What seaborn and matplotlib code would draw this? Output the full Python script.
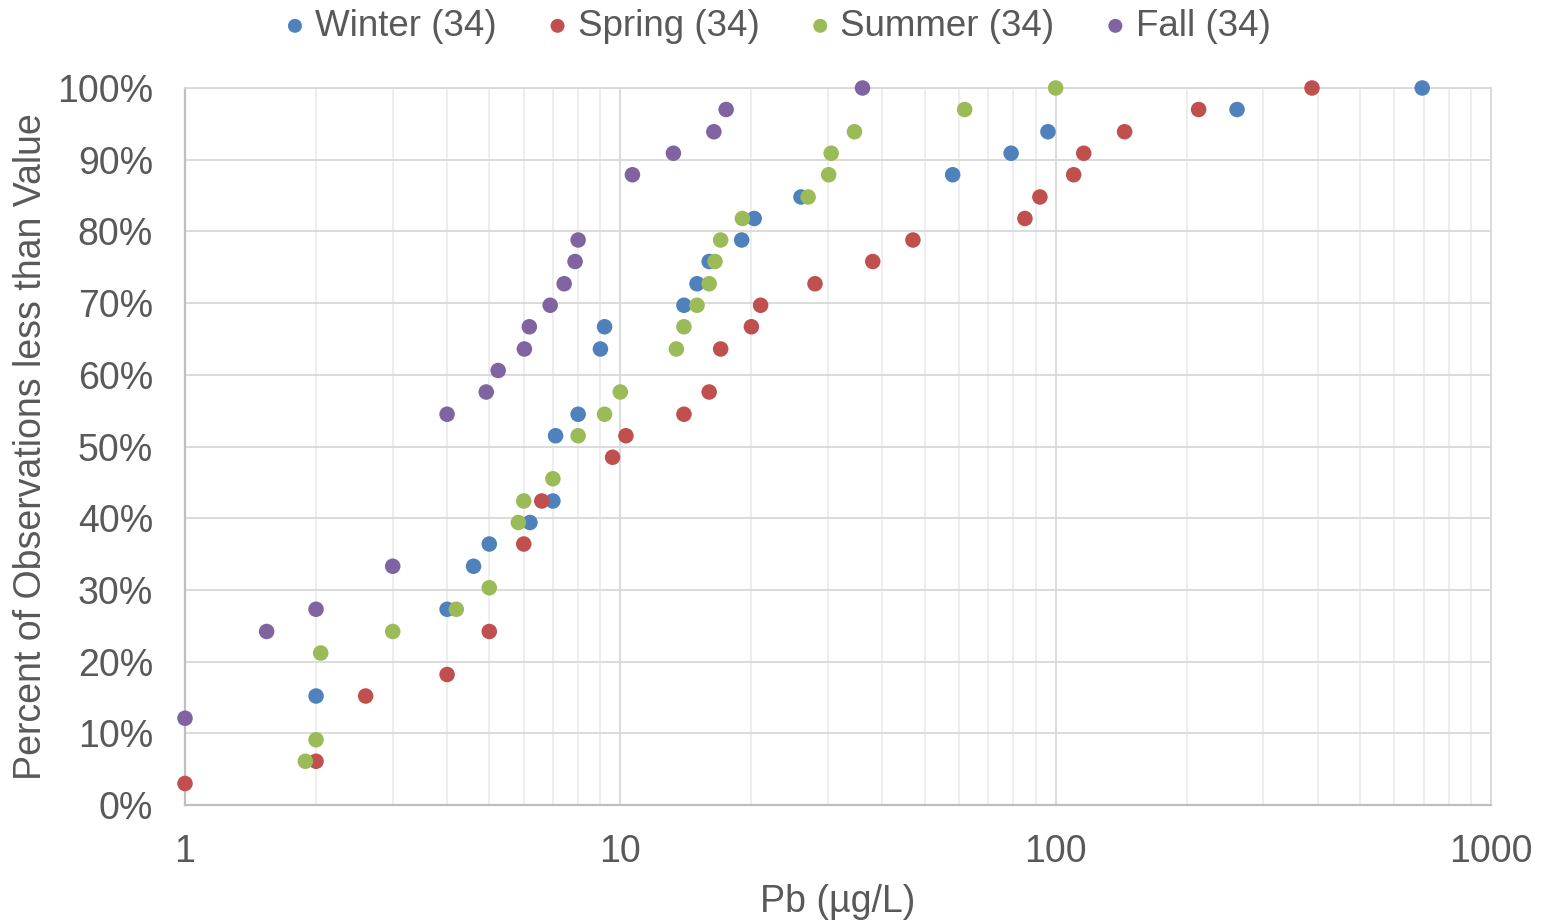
import matplotlib
matplotlib.use("Agg")
import matplotlib.pyplot as plt
from matplotlib.ticker import FixedLocator, LogLocator, NullFormatter, PercentFormatter, FixedFormatter
import seaborn as sns
import pandas as pd

# ---- data (Pb, ug/L  vs  percent of observations less than value)
winter_x = [2, 4, 4.6, 5, 6.2, 7.0, 7.1, 8, 9, 9.2, 14, 15, 16, 19, 20.3, 26, 58, 79, 96, 261, 695]
winter_y = [15.2, 27.3, 33.3, 36.4, 39.4, 42.4, 51.5, 54.5, 63.6, 66.7, 69.7, 72.7, 75.8, 78.8,
            81.8, 84.8, 87.9, 90.9, 93.9, 97.0, 100.0]

spring_x = [1, 2, 2.6, 4, 5, 6, 6.6, 9.6, 10.3, 14, 16, 17, 20, 21, 28, 38, 47, 85, 92, 110, 116,
            144, 213, 388]
spring_y = [3.0, 6.1, 15.2, 18.2, 24.2, 36.4, 42.4, 48.5, 51.5, 54.5, 57.6, 63.6, 66.7, 69.7,
            72.7, 75.8, 78.8, 81.8, 84.8, 87.9, 90.9, 93.9, 97.0, 100.0]

summer_x = [1.89, 2, 2.05, 3, 4.2, 5, 5.83, 6, 7, 8, 9.2, 10, 13.45, 14, 15, 16, 16.5, 17, 19.07,
            27, 30.1, 30.5, 34.5, 61.8, 100]
summer_y = [6.1, 9.1, 21.2, 24.2, 27.3, 30.3, 39.4, 42.4, 45.5, 51.5, 54.5, 57.6, 63.6, 66.7,
            69.7, 72.7, 75.8, 78.8, 81.8, 84.8, 87.9, 90.9, 93.9, 97.0, 100.0]

fall_x = [1, 1.54, 2, 3, 4, 4.92, 5.24, 6.02, 6.18, 6.9, 7.43, 7.87, 8, 10.66, 13.24, 16.4, 17.5, 36]
fall_y = [12.1, 24.2, 27.3, 33.3, 54.5, 57.6, 60.6, 63.6, 66.7, 69.7, 72.7, 75.8, 78.8, 87.9,
          90.9, 93.9, 97.0, 100.0]

series_names = ["Winter (34)", "Spring (34)", "Summer (34)", "Fall (34)"]
series_colors = ["#4F81BD", "#C0504D", "#9BBB59", "#8064A2"]

x_ticks = [1, 10, 100, 1000]
x_tick_labels = ["1", "10", "100", "1000"]
y_ticks = [0, 10, 20, 30, 40, 50, 60, 70, 80, 90, 100]

frames = []
for name, xs, ys in zip(series_names,
                        [winter_x, spring_x, summer_x, fall_x],
                        [winter_y, spring_y, summer_y, fall_y]):
    frames.append(pd.DataFrame({"Pb": xs, "pct": ys, "season": name}))
df = pd.concat(frames, ignore_index=True)

sns.set_style("white")
plt.rcParams["font.family"] = ["Liberation Sans", "DejaVu Sans"]
text_color = "#595959"
fs = 27

fig = plt.figure(figsize=(15.47, 9.23), dpi=100)
ax = fig.add_axes([185 / 1547, 1 - 805 / 923, (1491 - 185) / 1547, (805 - 88) / 923])

for name, color in zip(series_names, series_colors):
    sub = df[df["season"] == name]
    sns.scatterplot(data=sub, x="Pb", y="pct", ax=ax, color=color, s=125,
                    edgecolor="none", linewidth=0, label=name, clip_on=False, zorder=5)

ax.set_xscale("log")
ax.set_xlim(1, 1000)
ax.set_ylim(0, 100)
ax.xaxis.set_major_locator(FixedLocator(x_ticks))
ax.xaxis.set_major_formatter(FixedFormatter(x_tick_labels))
ax.xaxis.set_minor_locator(LogLocator(base=10, subs=range(2, 10)))
ax.xaxis.set_minor_formatter(NullFormatter())
ax.yaxis.set_major_locator(FixedLocator(y_ticks))
ax.yaxis.set_major_formatter(PercentFormatter(decimals=0))

ax.grid(True, which="major", axis="both", color="#d9d9d9", linewidth=1.3, zorder=0)
ax.grid(True, which="minor", axis="x", color="#ededed", linewidth=1.3, zorder=0)
ax.set_axisbelow(True)

for side in ["left", "bottom"]:
    ax.spines[side].set_color("#bfbfbf")
    ax.spines[side].set_linewidth(1.6)
for side in ["top", "right"]:
    ax.spines[side].set_color("#d9d9d9")
    ax.spines[side].set_linewidth(1.3)

ax.tick_params(axis="both", which="both", length=0, labelsize=fs, labelcolor=text_color)
ax.tick_params(axis="y", pad=23)
ax.tick_params(axis="x", pad=21)

ax.set_xlabel("Pb (µg/L)", fontsize=fs, color=text_color, labelpad=10)
ax.set_ylabel("Percent of Observations less than Value", fontsize=fs, color=text_color, labelpad=6)

handles, labels = ax.get_legend_handles_labels()
ax.get_legend().remove()
leg = fig.legend(handles, labels, loc="center", bbox_to_anchor=(0.5, 1 - 26 / 923), ncol=4,
                 frameon=False, fontsize=26.5, markerscale=0.9, handletextpad=0.05,
                 columnspacing=1.15, handlelength=1.0, borderaxespad=0)
for t in leg.get_texts():
    t.set_color(text_color)

fig.savefig("out.png", dpi=100)
